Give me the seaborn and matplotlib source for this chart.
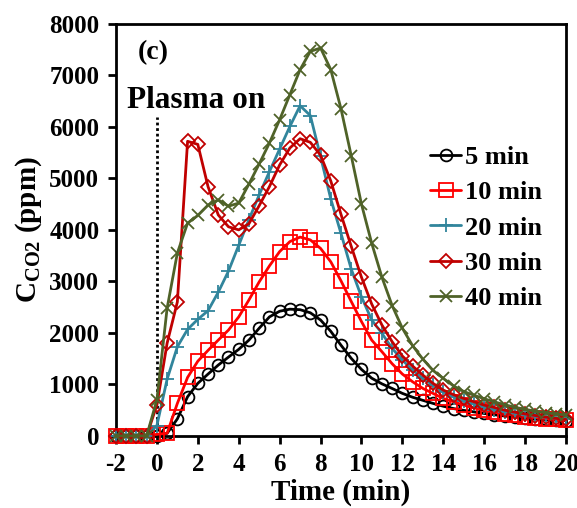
import numpy as np
import pandas as pd
import matplotlib
matplotlib.use('Agg')
import matplotlib.pyplot as plt
import seaborn as sns

time = [-2, -1.5, -1, -0.5, 0, 0.5, 1, 1.5, 2, 2.5, 3, 3.5, 4, 4.5, 5,
        5.5, 6, 6.5, 7, 7.5, 8, 8.5, 9, 9.5, 10, 10.5, 11, 11.5, 12, 12.5,
        13, 13.5, 14, 14.5, 15, 15.5, 16, 16.5, 17, 17.5, 18, 18.5, 19, 19.5, 20]

co2_5 = [0, 0, 0, 0, 0,
         50, 330, 760, 1020, 1200, 1375, 1530, 1680, 1860, 2090,
         2310, 2420, 2460, 2450, 2390, 2250, 2030, 1760, 1505, 1290,
         1120, 1010, 920, 825, 750, 690, 630, 575, 530, 495,
         465, 435, 410, 385, 365, 345, 330, 318, 305, 295]
co2_10 = [0, 0, 0, 0, 30,
          50, 630, 1135, 1450, 1660, 1860, 2055, 2310, 2640, 2990,
          3300, 3578, 3772, 3860, 3805, 3640, 3380, 3010, 2610, 2220,
          1860, 1634, 1400, 1200, 1050, 922, 824, 727, 661, 597,
          545, 500, 460, 430, 400, 375, 355, 335, 318, 300]
co2_20 = [0, 0, 0, 0, 200,
          1100, 1730, 2068, 2263, 2430, 2790, 3200, 3700, 4200, 4680,
          5130, 5570, 6008, 6411, 6220, 5425, 4600, 3930, 3240, 2700,
          2250, 1991, 1699, 1472, 1277, 1116, 986, 856, 758, 680,
          615, 560, 510, 470, 435, 405, 380, 360, 342, 325]
co2_30 = [0, 0, 0, 0, 600,
          1800, 2600, 5720, 5660, 4840, 4290, 4060, 4000, 4120, 4470,
          4840, 5260, 5590, 5770, 5700, 5450, 4950, 4300, 3680, 3080,
          2560, 2152, 1828, 1550, 1355, 1180, 1019, 889, 800, 727,
          661, 597, 552, 500, 460, 425, 395, 365, 340, 318]
co2_40 = [0, 0, 0, 0, 700,
          2480, 3550, 4130, 4280, 4480, 4583, 4460, 4520, 4890, 5280,
          5686, 6138, 6625, 7111, 7466, 7532, 7111, 6350, 5440, 4500,
          3741, 3080, 2530, 2090, 1750, 1490, 1270, 1116, 970, 860,
          790, 720, 660, 605, 555, 515, 480, 452, 428, 405]

labels = ['5 min', '10 min', '20 min', '30 min', '40 min']
colors = ['#000000', '#FF0000', '#31859C', '#C00000', '#4F6228']
markers = ['o', 's', '+', 'D', 'x']
msizes = [8.5, 9.5, 10, 7.5, 9]
series = [co2_5, co2_10, co2_20, co2_30, co2_40]

sns.set_style('ticks')
plt.rcParams['font.family'] = ['Liberation Serif', 'DejaVu Serif']
plt.rcParams['font.weight'] = 'bold'
plt.rcParams['mathtext.fontset'] = 'custom'
plt.rcParams['mathtext.bf'] = 'Liberation Serif:bold'
plt.rcParams['mathtext.rm'] = 'Liberation Serif:bold'
plt.rcParams['axes.unicode_minus'] = False
for key in ['text.color', 'axes.labelcolor', 'xtick.color', 'ytick.color', 'axes.edgecolor']:
    plt.rcParams[key] = 'black'

fig = plt.figure(figsize=(5.77, 5.08), dpi=100)
ax = fig.add_axes([0.201, 0.142, 0.780, 0.811])

# plasma on marker
ax.plot([0, 0], [0, 6200], color='black', lw=2, linestyle=(0, (1, 1)), zorder=1)

for lab, col, mk, ms, vals in zip(labels, colors, markers, msizes, series):
    df = pd.DataFrame({'t': time, 'c': vals})
    sns.lineplot(data=df, x='t', y='c', ax=ax, color=col, lw=2, label=lab,
                 marker=mk, markersize=ms, markeredgewidth=1.3,
                 markeredgecolor=col, markerfacecolor='none', clip_on=False,
                 zorder=3)

ax.set_xlim(-2, 20)
ax.set_ylim(0, 8000)
ax.set_xticks(range(-2, 21, 2))
ax.set_yticks(range(0, 8001, 1000))
ax.tick_params(axis='both', direction='out', length=6, width=2,
               labelsize=18, pad=6, colors='black')
for lbl in ax.get_xticklabels() + ax.get_yticklabels():
    lbl.set_fontweight('bold')
for sp in ax.spines.values():
    sp.set_linewidth(2)
    sp.set_color('black')
    sp.set_visible(True)

ax.set_xlabel('Time (min)', fontsize=21, fontweight='bold', labelpad=2)
ax.set_ylabel(r'$\mathbf{C_{CO2}}$ (ppm)', fontsize=21, fontweight='bold', labelpad=4)

ax.text(0.049, 0.93, '(c)', transform=ax.transAxes, fontsize=20,
        fontweight='bold', va='center', ha='left')
ax.text(1.9, 6510, 'Plasma on', fontsize=22.5, fontweight='bold',
        va='center', ha='center')

ax.legend(loc='center left', bbox_to_anchor=(0.668, 0.505), frameon=False,
          handlelength=1.2, handletextpad=0.15, labelspacing=0.45,
          borderpad=0, prop={'weight': 'bold', 'size': 19})

fig.savefig('out.png', dpi=100)
